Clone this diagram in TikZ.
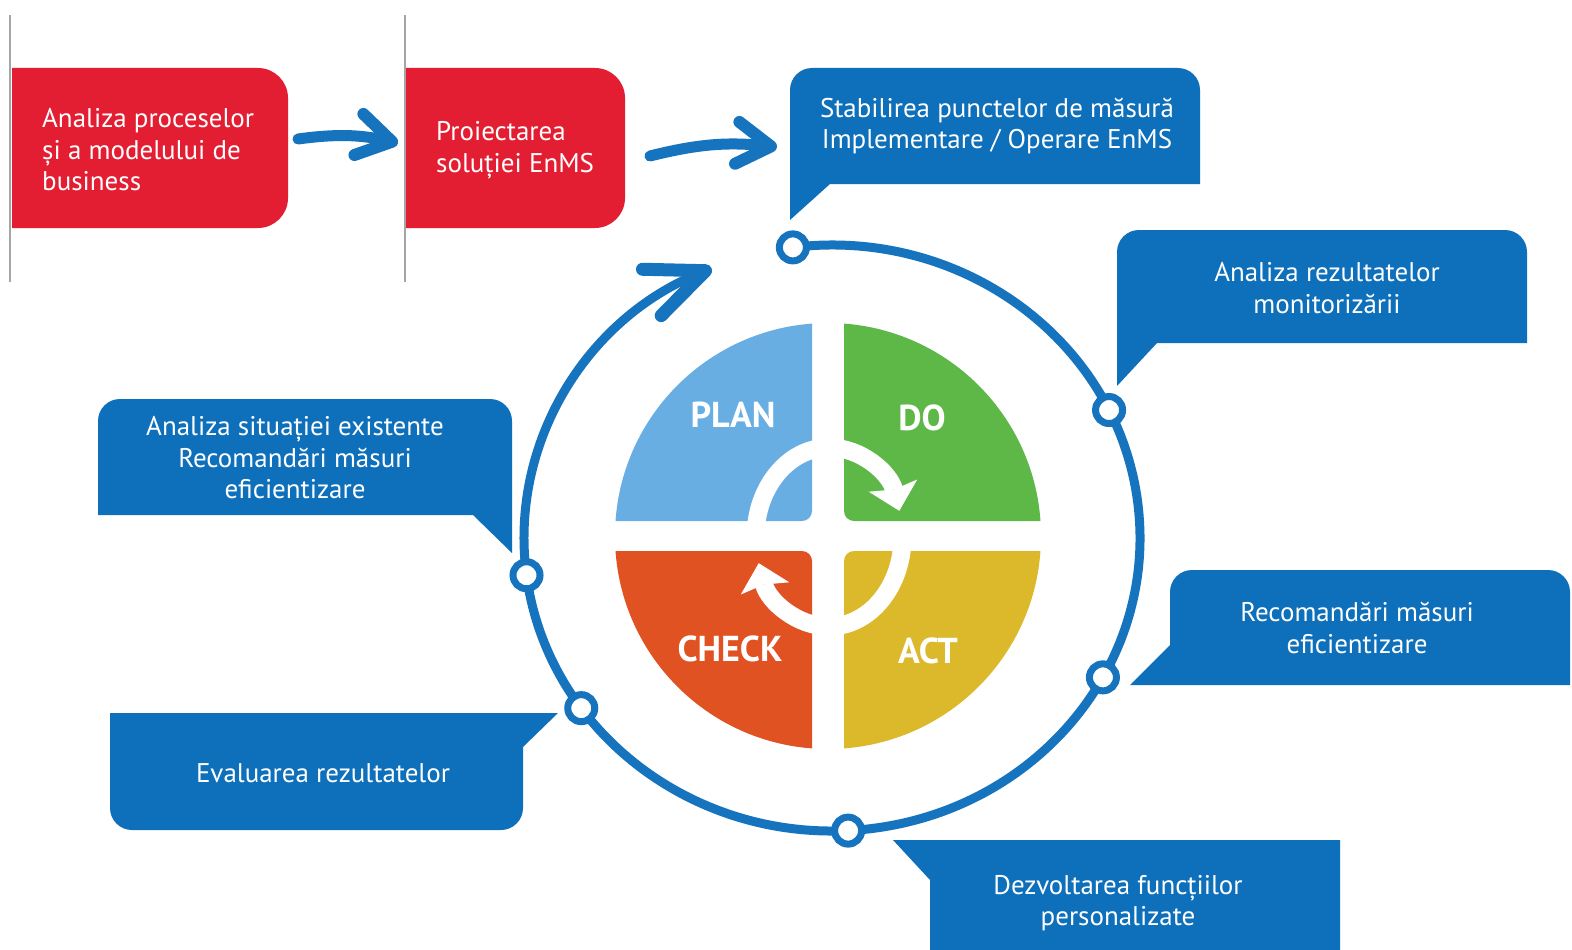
\documentclass[tikz,border=0pt]{standalone}
\usepackage{fontspec}
\setmainfont{PT Sans}
\usetikzlibrary{arrows.meta}
\definecolor{cblue}{RGB}{14,111,186}
\definecolor{rblue}{RGB}{22,115,190}
\definecolor{cred}{RGB}{228,30,50}
\definecolor{cplan}{RGB}{104,174,226}
\definecolor{cdo}{RGB}{93,184,71}
\definecolor{ccheck}{RGB}{225,82,35}
\definecolor{cact}{RGB}{220,185,42}
\definecolor{cgray}{RGB}{165,165,165}
\begin{document}
\begin{tikzpicture}[x=1pt,y=1pt,
  boxtxt/.style={text=white,font=\fontsize{27}{31.5}\selectfont,align=center,inner sep=0pt},
  pdcatxt/.style={text=white,font=\fontsize{36}{40}\selectfont\bfseries,inner sep=0pt},
  dot/.style={circle,draw=rblue,fill=white,line width=7pt,minimum size=27pt,inner sep=0pt},
  flow/.style={draw=rblue,line width=11pt,line cap=round,-{Straight Barb[round,length=34pt,width=42pt,line width'=12pt]}},
  innerarrow/.style={draw=white,line width=18pt,-{Stealth[length=26pt,width=50pt,inset=4pt,line width'=0pt]}},
  ]
\useasboundingbox (0,0) rectangle (1572,-950);
\fill[white] (0,0) rectangle (1572,-950);

% gray separators
\draw[cgray, line width=2pt] (10,-15) -- (10,-282);
\draw[cgray, line width=2pt] (405,-15) -- (405,-282);

% red boxes
\fill[cred] (12,-68) -- (258,-68) arc[start angle=90,end angle=0,radius=30] -- (288,-198) arc[start angle=0,end angle=-90,radius=30] -- (12,-228) -- cycle;
\node[boxtxt, anchor=west, align=left] (ta) at (42,-150) {Analiza proceselor\\și a modelului de\\business};
\fill[cred] (406,-68) -- (595,-68) arc[start angle=90,end angle=0,radius=30] -- (625,-198) arc[start angle=0,end angle=-90,radius=30] -- (406,-228) -- cycle;
\node[boxtxt, anchor=west, align=left] (tb) at (436,-150) {Proiectarea\\soluției EnMS};

% flow arrows
\coordinate (a1s) at (298,-139);
\coordinate (a1e) at (398,-143);
\draw[flow] (a1s) to[bend left=10] (a1e);
\coordinate (a2s) at (650,-156);
\coordinate (a2e) at (777,-147);
\draw[flow] (a2s) to[bend left=10] (a2e);

% callouts
\fill[cblue] (790,-220) -- (790,-90) arc[start angle=180,end angle=90,radius=22] -- (1178,-68) arc[start angle=90,end angle=0,radius=22] -- (1200,-184) -- (830,-184) -- cycle;
\node[boxtxt] (s1) at (997,-126) {Stabilirea punctelor de măsură\\Implementare / Operare EnMS};

\fill[cblue] (1117,-386) -- (1117,-252) arc[start angle=180,end angle=90,radius=22] -- (1505,-230) arc[start angle=90,end angle=0,radius=22] -- (1527,-343) -- (1157,-343) -- cycle;
\node[boxtxt] (s2) at (1327,-288) {Analiza rezultatelor\\monitorizării};

\fill[cblue] (1130,-685) -- (1170,-645) -- (1170,-592) arc[start angle=180,end angle=90,radius=22] -- (1548,-570) arc[start angle=90,end angle=0,radius=22] -- (1570,-685) -- cycle;
\node[boxtxt] (s3) at (1357,-628) {Recomandări măsuri\\eficientizare};

\fill[cblue] (893,-840) -- (1340,-840) -- (1340,-952) -- (930,-952) -- (930,-880) -- cycle;
\node[boxtxt] (s6) at (1118,-903) {Dezvoltarea funcțiilor\\personalizate};

\fill[cblue] (110,-713) -- (558,-713) -- (523,-747) -- (523,-808) arc[start angle=0,end angle=-90,radius=22] -- (132,-830) arc[start angle=-90,end angle=-180,radius=22] -- cycle;
\node[boxtxt] (s5) at (323,-773) {Evaluarea rezultatelor};

\fill[cblue] (98,-515) -- (98,-421) arc[start angle=180,end angle=90,radius=22] -- (490,-399) arc[start angle=90,end angle=0,radius=22] -- (512,-553) -- (473,-515) -- cycle;
\node[boxtxt] (s4) at (295,-458) {Analiza situației existente\\Recomandări măsuri\\eficientizare};

% PDCA disk
\coordinate (P) at (828,-536);
\begin{scope}
  \clip[rounded corners=10pt] (812,-521) -- (590,-521) -- (590,-300) -- (812,-300) -- cycle;
  \fill[cplan] (P) circle[radius=213];
\end{scope}
\begin{scope}
  \clip[rounded corners=10pt] (844,-521) -- (1070,-521) -- (1070,-300) -- (844,-300) -- cycle;
  \fill[cdo] (P) circle[radius=213];
\end{scope}
\begin{scope}
  \clip[rounded corners=10pt] (812,-551) -- (590,-551) -- (590,-770) -- (812,-770) -- cycle;
  \fill[ccheck] (P) circle[radius=213];
\end{scope}
\begin{scope}
  \clip[rounded corners=10pt] (844,-551) -- (1070,-551) -- (1070,-770) -- (844,-770) -- cycle;
  \fill[cact] (P) circle[radius=213];
\end{scope}

% inner white cycle arrows
\coordinate (Q) at (829,-537);
\draw[innerarrow] (Q) ++(180:73.5pt and 89.5pt) arc[start angle=180,end angle=17,x radius=73.5pt,y radius=89.5pt];
\draw[innerarrow] (Q) ++(0:73.5pt and 89.5pt) arc[start angle=0,end angle=-163,x radius=73.5pt,y radius=89.5pt];

\node[pdcatxt] (plan) at (733,-415) {PLAN};
\node[pdcatxt] (do) at (922,-418) {DO};
\node[pdcatxt] (check) at (730,-649) {CHECK};
\node[pdcatxt] (act) at (928,-651) {ACT};

% outer ring
\coordinate (C) at (832,-538);
\draw[rblue, line width=9pt, -{Straight Barb[round,length=58pt,width=50pt,line width'=13pt]}] (C) ++(97.3:308pt and 293pt) arc[start angle=97.3,end angle=-247,x radius=308pt,y radius=293pt];

\path (C) ++(97.3:308pt and 293pt) node[dot] (d1) {};
\path (C) ++(25.9:308pt and 293pt) node[dot] (d2) {};
\path (C) ++(-28.4:308pt and 293pt) node[dot] (d3) {};
\path (C) ++(-87:308pt and 293pt) node[dot] (d4) {};
\path (C) ++(-144.5:308pt and 293pt) node[dot] (d5) {};
\path (C) ++(187.3:308pt and 293pt) node[dot] (d6) {};
\end{tikzpicture}
\end{document}
